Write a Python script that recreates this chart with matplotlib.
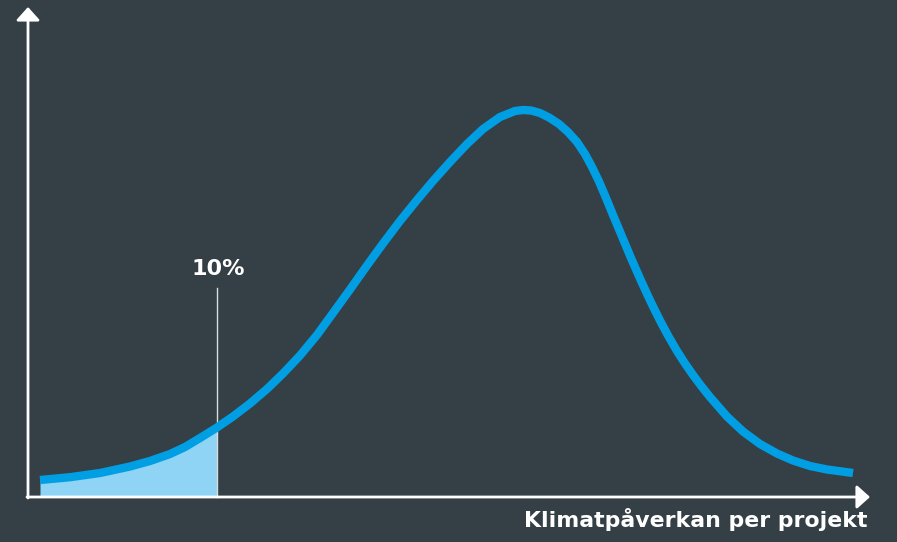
import numpy as np
import matplotlib.pyplot as plt

# Curve (x: climate impact, y: share of projects), origin at axis corner
impact = [12, 42, 72, 102, 122, 142, 157, 172, 189, 205, 222, 239, 255, 272, 289,
          305, 322, 339, 355, 372, 389, 405, 422, 439, 455, 472, 487, 495, 503,
          512, 521, 531, 540, 549, 557, 564, 571, 577, 585, 594, 603, 612, 620,
          626, 632, 640, 649, 657, 665, 674, 682, 699, 715, 732, 749, 765, 782,
          799, 825]
share = [17, 19.8, 24, 30.5, 36, 43, 50, 59, 69.5, 80.5, 93.5, 108, 123.5, 141.5, 162,
         184, 207.5, 231.5, 253.5, 276, 297, 316, 335, 353, 368, 380, 386, 387, 386.5,
         384, 379.5, 373, 365, 355, 343, 330, 315.5, 301.5, 282, 260.5, 239, 218.5, 201,
         188.5, 176.5, 161.5, 146, 133.5, 122, 110, 100, 80.5, 65.5, 53, 43.5, 36.5, 31,
         27.5, 24]
cut_x = 189          # 10% cut-off
cut_top = 209
label_10 = "10%"
x_label = "Klimatpåverkan per projekt"

bg = '#343f46'
blue = '#009fe3'
light = '#8fd3f5'

fig = plt.figure(figsize=(8.97, 5.42), dpi=100, facecolor=bg)
ax = fig.add_axes([0, 0, 1, 1])
ax.set_facecolor(bg)
ax.set_xlim(-28, 869)
ax.set_ylim(-45, 497)
ax.axis('off')

x = np.array(impact)
y = np.array(share)

# shaded tail up to the cut-off
m = x <= cut_x
ax.fill_between(x[m], 0, y[m], color=light, lw=0, zorder=1)

# cut-off line and label
ax.plot([cut_x, cut_x], [0, cut_top], color='#d8dde0', lw=1.0, zorder=2)
ax.text(cut_x + 1, cut_top + 13, label_10, color='white', fontsize=16,
        fontweight='bold', family='DejaVu Sans', ha='center', va='baseline')

# curve
ax.plot(x, y, color=blue, lw=6, solid_capstyle='butt', solid_joinstyle='round', zorder=3)

# axes with arrows
head = '-|>,head_length=0.8,head_width=0.72'
ax.annotate('', xy=(0, 490), xytext=(0, -1),
            arrowprops=dict(arrowstyle=head, color='white', lw=2, shrinkA=0, shrinkB=0))
ax.annotate('', xy=(842, 0), xytext=(-1, 0),
            arrowprops=dict(arrowstyle=head, color='white', lw=2, shrinkA=0, shrinkB=0))

ax.text(840, -30, x_label, color='white', fontsize=15.8, fontweight='bold',
        family='DejaVu Sans', ha='right', va='baseline')

fig.savefig('out.png', dpi=100, facecolor=bg)
